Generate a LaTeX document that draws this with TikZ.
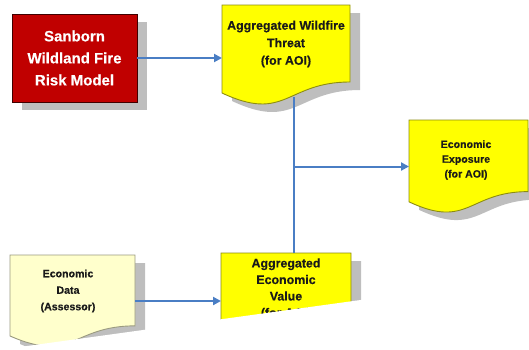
\documentclass[tikz,border=0pt]{standalone}
\usepackage{fontspec}
\setmainfont{Liberation Sans}
\newfontfamily\heavyfont[FakeBold=0.3]{Liberation Sans Bold}
\usetikzlibrary{arrows.meta,backgrounds,calc}
\definecolor{docyellow}{HTML}{FFFF00}
\definecolor{docborder}{HTML}{8C8C10}
\definecolor{palefill}{HTML}{FFFFCC}
\definecolor{paleborder}{HTML}{9A9A80}
\definecolor{shadowc}{HTML}{BEBEBE}
\definecolor{arrowblue}{HTML}{4A7EC4}
\definecolor{firered}{HTML}{C00000}
\definecolor{fireborder}{HTML}{400000}
\definecolor{txtc}{HTML}{1A1A1A}
\newcommand\docshape[5]{%
  \fill[shadowc, shift={(#1.north west)}, xshift=10pt, yshift=-8pt]
    (0,0) -- (#2,0) -- (#2,{0.77*#3}) .. controls ({0.5*#2},{0.77*#3}) and ({0.5*#2},{1.18*#3}) .. (0,{0.88*#3}) -- cycle;
  \draw[fill=#4, draw=#5, line width=0.9pt, shift={(#1.north west)}]
    (0,0) -- (#2,0) -- (#2,{0.77*#3}) .. controls ({0.5*#2},{0.77*#3}) and ({0.5*#2},{1.18*#3}) .. (0,{0.88*#3}) -- cycle;
}
\tikzset{
  frame/.style={inner sep=0pt, outer sep=0pt, anchor=north west},
  txt/.style={align=center, text=txtc, inner sep=0pt},
  conn/.style={draw=arrowblue, line width=2pt, -{Triangle[length=8pt,width=8pt]}},
  plainline/.style={draw=arrowblue, line width=2pt},
}
\begin{document}
\begin{tikzpicture}[x=1pt,y=-1pt]
\useasboundingbox (0,0) rectangle (529,349);
% frames
\node[frame, minimum width=125pt, minimum height=88pt, fill=firered, draw=fireborder, line width=1pt,
      text=white, align=center, font=\heavyfont\fontsize{15}{22}\selectfont] (fire) at (12,14)
      {Sanborn\\Wildland Fire\\Risk Model};
\node[frame, minimum width=128pt, minimum height=100pt] (threat) at (222,5) {};
\node[frame, minimum width=119pt, minimum height=93pt] (expo) at (409,120) {};
\node[frame, minimum width=125pt, minimum height=92pt] (data) at (10,255) {};
\node[frame, minimum width=130pt, minimum height=96pt] (value) at (221,253) {};
\begin{scope}[on background layer]
  \fill[shadowc] ($(fire.north west)+(10,8)$) rectangle ($(fire.south east)+(10,8)$);
  \docshape{threat}{128}{100}{docyellow}{docborder}
  \docshape{expo}{119}{93}{docyellow}{docborder}
  \docshape{data}{125}{92}{palefill}{paleborder}
  \docshape{value}{130}{96}{docyellow}{docborder}
\end{scope}
% texts
\node[txt, font=\heavyfont\fontsize{12.4}{17.5}\selectfont] (threatt) at (286,44) {Aggregated Wildfire\\Threat\\(for AOI)};
\node[txt, font=\heavyfont\fontsize{10.6}{14.8}\selectfont] (expot) at (466,160) {Economic\\Exposure\\(for AOI)};
\node[txt, font=\heavyfont\fontsize{10.6}{16.5}\selectfont] (datat) at (68,291) {Economic\\Data\\(Assessor)};
\node[txt, font=\heavyfont\fontsize{12.4}{16.5}\selectfont] (valuet) at (286,289) {Aggregated\\Economic\\Value\\(for AOI)};
% connectors
\draw[conn] (fire.east) -- (fire.east -| threat.west);
\coordinate (tb) at (294,97);
\draw[plainline] (tb) -- (tb |- value.north);
\coordinate (j) at (tb |- expo.west);
\draw[conn] (j) -- (j -| expo.west);
\draw[conn] (data.east) -- (data.east -| value.west);
% torn bottom edge
\fill[white] (-2,352) -- (-2,350) -- (531,276.5) -- (531,352) -- cycle;
\end{tikzpicture}
\end{document}
